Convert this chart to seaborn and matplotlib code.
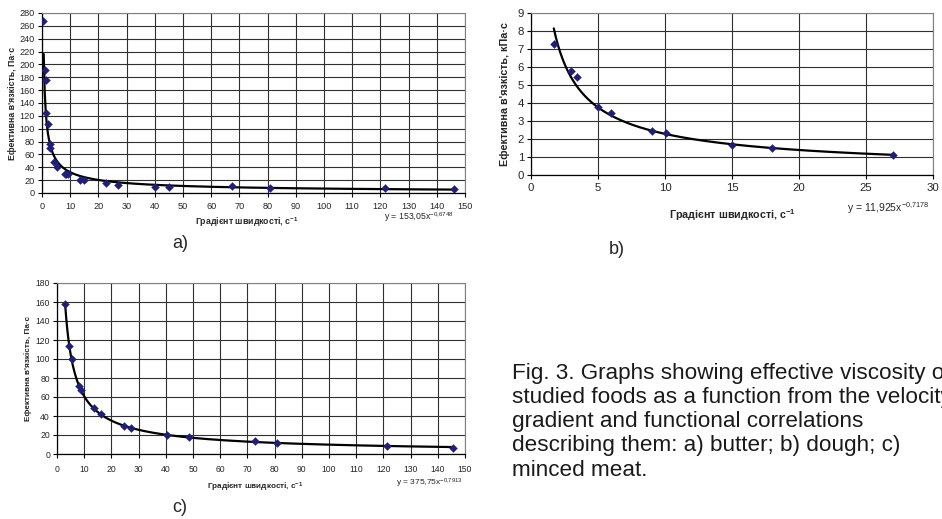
import numpy as np
import matplotlib
matplotlib.use('Agg')
import matplotlib.pyplot as plt
import pandas as pd
import seaborn as sns

# a) butter
butter_x = [0.4, 0.95, 1.3, 1.5, 2.1, 2.7, 3.0, 4.3, 5.3, 8.0, 8.6, 9.2, 13.4, 14.8, 22.6, 27.0, 40.2, 45.0, 67.5, 81.0, 121.7, 146.0]
butter_y = [268, 191, 176, 125, 108, 77, 70, 49, 41, 30, 29, 29, 21, 20, 15.6, 13, 9.4, 9.4, 10.4, 8.3, 7.8, 5.7]
butter_coef = (153.05, -0.6748)
butter_range = (0.6, 146)

# b) dough
dough_x = [1.7, 3.0, 3.4, 5.0, 6.0, 9.05, 10.05, 15.0, 18.0, 27.0]
dough_y = [7.29, 5.79, 5.42, 3.80, 3.47, 2.45, 2.32, 1.65, 1.52, 1.11]
dough_coef = (11.925, -0.7178)
dough_range = (1.7, 27)

# c) minced meat
meat_x = [3.06, 4.5, 5.5, 8.0, 9.0, 13.5, 16.2, 24.5, 27.2, 40.4, 48.6, 72.9, 80.8, 121.2, 145.7]
meat_y = [158, 114, 100, 72, 67, 48, 42, 30, 27, 20, 18, 13.3, 11.6, 8.1, 6.7]
meat_coef = (375.75, -0.7913)
meat_range = (3.0, 146)

sns.set_style('white')
plt.rcParams['font.family'] = ['Liberation Sans', 'DejaVu Sans']
plt.rcParams['mathtext.default'] = 'regular'

W, H = 942, 519
fig = plt.figure(figsize=(W / 100, H / 100), dpi=100)


def px_axes(l, t, r, b):
    return fig.add_axes([l / W, 1 - b / H, (r - l) / W, (b - t) / H])


def draw_panel(ax, xs, ys, coef, rng, xlim, ylim, xstep, ystep, fs, ylabel, ylab_x, xlab, pad):
    fit_x = np.linspace(rng[0], rng[1], 400)
    fit = pd.DataFrame({'x': fit_x, 'y': coef[0] * fit_x ** coef[1]})
    sns.lineplot(data=fit, x='x', y='y', ax=ax, color='black', linewidth=1.6, sort=False, zorder=3)
    pts = pd.DataFrame({'x': xs, 'y': ys})
    sns.scatterplot(data=pts, x='x', y='y', ax=ax, marker='D', s=16, color='#1f1f7a',
                    edgecolor='#1f1f7a', linewidth=0.3, zorder=4)
    ax.set_xlim(*xlim)
    ax.set_ylim(*ylim)
    ax.set_xticks(np.arange(xlim[0], xlim[1] + xstep / 2, xstep))
    ax.set_yticks(np.arange(ylim[0], ylim[1] + ystep / 2, ystep))
    ax.grid(True, color='#303030', linewidth=0.8)
    ax.set_axisbelow(True)
    ax.tick_params(axis='both', labelsize=fs, direction='out', length=3, width=0.8,
                   color='black', pad=2, bottom=True, left=True)
    ax.tick_params(axis='x', pad=pad)
    for s in ['top', 'right']:
        ax.spines[s].set_color('#808080')
        ax.spines[s].set_linewidth(0.8)
    for s in ['bottom', 'left']:
        ax.spines[s].set_color('black')
        ax.spines[s].set_linewidth(0.9)
    ax.set_ylabel(ylabel, fontsize=fs * 0.95, fontweight='bold')
    ax.set_xlabel('Градієнт швидкості, с$^{-1}$', fontsize=fs * 0.95, fontweight='bold')
    ax.yaxis.set_label_coords(ylab_x, 0.5)
    ax.xaxis.set_label_coords(*xlab)


ax_a = px_axes(42, 13, 465, 193)
draw_panel(ax_a, butter_x, butter_y, butter_coef, butter_range, (0, 150), (0, 280), 10, 20, 6.6,
           "Ефективна в'язкість, Па·с", -0.059, (0.485, -0.122), 3.5)

ax_b = px_axes(531, 13, 933, 175)
draw_panel(ax_b, dough_x, dough_y, dough_coef, dough_range, (0, 30), (0, 9), 5, 1, 8.2,
           "Ефективна в'язкість, кПа·с", -0.052, (0.5, -0.198), 3)

ax_c = px_axes(57, 283, 465, 454)
draw_panel(ax_c, meat_x, meat_y, meat_coef, meat_range, (0, 150), (0, 180), 10, 20, 6.2,
           "Ефективна в'язкість, Па·с", -0.062, (0.485, -0.158), 5)

fig.text(419 / W, 1 - 217 / H, 'y = 153,05x$^{-0{,}6748}$', fontsize=6.3, ha='center', va='center')
fig.text(888 / W, 1 - 208 / H, 'y = 11,925x$^{-0{,}7178}$', fontsize=7.5, ha='center', va='center')
fig.text(429 / W, 1 - 483 / H, 'y = 375,75x$^{-0{,}7913}$', fontsize=6.0, ha='center', va='center')

fig.text(180 / W, 1 - 243 / H, 'a)', fontsize=13, ha='center', va='center')
fig.text(617 / W, 1 - 250 / H, 'b)', fontsize=13, ha='center', va='center')
fig.text(180 / W, 1 - 507 / H, 'c)', fontsize=13, ha='center', va='center')

caption = ['Fig. 3. Graphs showing effective viscosity of',
           'studied foods as a function from the velocity',
           'gradient and functional correlations',
           'describing them: a) butter; b) dough; c)',
           'minced meat.']
for i, line in enumerate(caption):
    fig.text(512 / W, 1 - (373 + 24.3 * i) / H, line, fontsize=16.2, ha='left', va='center', color='#1a1a1a')

fig.savefig('out.png', dpi=100)
